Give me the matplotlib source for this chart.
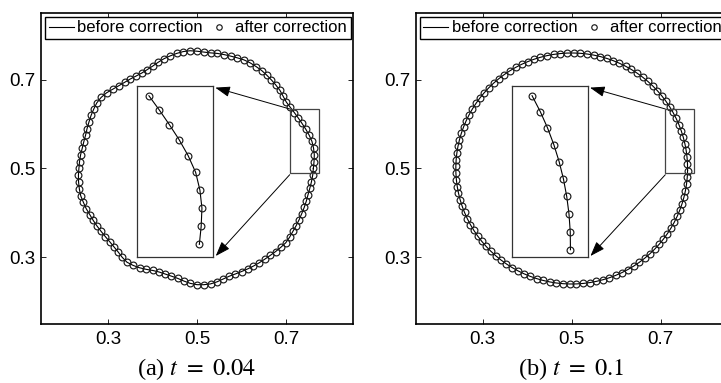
import numpy as np
import matplotlib
matplotlib.use('Agg')
import matplotlib.pyplot as plt
from matplotlib.patches import Rectangle

plt.rcParams['font.family'] = ['Liberation Sans', 'DejaVu Sans']
plt.rcParams['mathtext.fontset'] = 'stix'

# interface radius, one value per marker, at equal angle steps round (0.5, 0.5)
n_pts = 108
center = (0.5, 0.5)
start_deg = [0.0, -1.0]

r_a = [0.2610, 0.2630, 0.2650, 0.2655, 0.2650, 0.2625, 0.2595, 0.2565, 0.2540,
       0.2520, 0.2505, 0.2500, 0.2525, 0.2560, 0.2580, 0.2600, 0.2620, 0.2640,
       0.2650, 0.2660, 0.2662, 0.2650, 0.2640, 0.2635, 0.2630, 0.2620, 0.2625,
       0.2640, 0.2655, 0.2650, 0.2630, 0.2605, 0.2580, 0.2545, 0.2510, 0.2490,
       0.2480, 0.2490, 0.2510, 0.2530, 0.2560, 0.2600, 0.2650, 0.2680, 0.2690,
       0.2675, 0.2660, 0.2640, 0.2625, 0.2610, 0.2610, 0.2615, 0.2630, 0.2640,
       0.2650, 0.2665, 0.2675, 0.2680, 0.2680, 0.2660, 0.2645, 0.2620, 0.2605,
       0.2590, 0.2575, 0.2565, 0.2560, 0.2565, 0.2580, 0.2610, 0.2630, 0.2610,
       0.2580, 0.2540, 0.2500, 0.2480, 0.2480, 0.2490, 0.2510, 0.2550, 0.2590,
       0.2615, 0.2620, 0.2615, 0.2590, 0.2555, 0.2530, 0.2525, 0.2525, 0.2530,
       0.2535, 0.2540, 0.2545, 0.2555, 0.2570, 0.2585, 0.2600, 0.2590, 0.2575,
       0.2570, 0.2565, 0.2560, 0.2560, 0.2560, 0.2560, 0.2570, 0.2585, 0.2600]

r_b = [0.260, 0.260, 0.260, 0.260, 0.260, 0.260, 0.260, 0.260, 0.260,
       0.260, 0.260, 0.260, 0.260, 0.260, 0.260, 0.260, 0.260, 0.260,
       0.260, 0.260, 0.260, 0.260, 0.260, 0.260, 0.260, 0.260, 0.260,
       0.260, 0.260, 0.260, 0.260, 0.260, 0.260, 0.260, 0.260, 0.260,
       0.260, 0.260, 0.260, 0.260, 0.260, 0.260, 0.260, 0.260, 0.260,
       0.260, 0.260, 0.260, 0.260, 0.260, 0.260, 0.260, 0.260, 0.260,
       0.260, 0.260, 0.260, 0.260, 0.260, 0.260, 0.260, 0.260, 0.260,
       0.260, 0.260, 0.260, 0.260, 0.260, 0.260, 0.260, 0.260, 0.260,
       0.260, 0.260, 0.260, 0.260, 0.260, 0.260, 0.260, 0.260, 0.260,
       0.260, 0.260, 0.260, 0.260, 0.260, 0.260, 0.260, 0.260, 0.260,
       0.260, 0.260, 0.260, 0.260, 0.260, 0.260, 0.260, 0.260, 0.260,
       0.260, 0.260, 0.260, 0.260, 0.260, 0.260, 0.260, 0.260, 0.260]

ticks = [0.3, 0.5, 0.7]
tick_labels = ['0.3', '0.5', '0.7']
lims = (0.15, 0.85)
legend_labels = ['before correction', 'after correction']
captions = ['(a) $t\\ =\\ 0.04$', '(b) $t\\ =\\ 0.1$']

# window that gets magnified (x0, y0, w, h) and where the copy is drawn
zoom_boxes = [(0.708, 0.489, 0.065, 0.145), (0.710, 0.489, 0.065, 0.145)]
inset_box = (0.365, 0.300, 0.172, 0.385)


def polar_points(r, start):
    th = np.deg2rad(start + np.arange(n_pts) * 360.0 / n_pts)
    r = np.asarray(r)
    x = center[0] + r * np.cos(th)
    y = center[1] + r * np.sin(th)
    return x, y


def draw_curve(ax, x, y, closed=True, labels=True):
    lx, ly = (np.append(x, x[0]), np.append(y, y[0])) if closed else (x, y)
    ax.plot(lx, ly, '-', color='k', lw=0.8,
            label=legend_labels[0] if labels else None)
    ax.plot(x, y, 'o', ls='none', mfc='none', mec='#1a1a1a',
            ms=4.9, mew=0.85, label=legend_labels[1] if labels else None)


fig = plt.figure(figsize=(7.21, 3.83), dpi=100)
ax_lefts = [41 / 721, 415.7 / 721]
cap_x = [196 / 721, 571 / 721]

for i, r in enumerate([r_a, r_b]):
    ax = fig.add_axes([ax_lefts[i], 59 / 383, 312 / 721, 311 / 383])
    x, y = polar_points(r, start_deg[i])
    draw_curve(ax, x, y)

    ax.set_xlim(*lims)
    ax.set_ylim(*lims)
    ax.set_xticks(ticks)
    ax.set_xticklabels(tick_labels)
    ax.set_yticks(ticks)
    ax.set_yticklabels(tick_labels)
    ax.tick_params(direction='in', length=3.5, width=0.6, top=True, right=True,
                   labelsize=13.5)
    ax.tick_params(axis='x', pad=5)
    ax.tick_params(axis='y', pad=4)
    for s in ax.spines.values():
        s.set_linewidth(1.2)

    leg = ax.legend(loc='upper left', bbox_to_anchor=(0.013, 0.988),
                    borderaxespad=0, ncol=2, fontsize=12, frameon=True,
                    fancybox=False, handlelength=1.5, handletextpad=0.2,
                    columnspacing=0.25, borderpad=0.22, markerscale=0.8)
    leg.get_frame().set_edgecolor('k')
    leg.get_frame().set_linewidth(1.0)
    leg.get_frame().set_alpha(1)

    # small window on the curve
    zx, zy, zw, zh = zoom_boxes[i]
    ax.add_patch(Rectangle((zx, zy), zw, zh, fill=False, ec='#444444',
                           lw=0.9, zorder=5))

    # magnified copy: only the markers that fall inside the window
    inside = (x >= zx) & (x <= zx + zw) & (y >= zy) & (y <= zy + zh)
    ix, iy, iw, ih = inset_box
    ins = ax.inset_axes([ix, iy, iw, ih], transform=ax.transData)
    draw_curve(ins, x[inside], y[inside], closed=False, labels=False)
    ins.set_xlim(zx, zx + zw)
    ins.set_ylim(zy, zy + zh)
    ins.set_xticks([])
    ins.set_yticks([])
    for s in ins.spines.values():
        s.set_linewidth(0.9)
        s.set_edgecolor('#333333')

    arrow = dict(arrowstyle='-|>,head_length=0.9,head_width=0.32',
                 mutation_scale=10, lw=0.7, color='k',
                 shrinkA=0, shrinkB=0)
    ax.annotate('', xy=(ix + iw + 0.004, iy + ih - 0.003),
                xytext=(zx, zy + zh), arrowprops=arrow)
    ax.annotate('', xy=(ix + iw + 0.005, iy + 0.003),
                xytext=(zx, zy - 0.003), arrowprops=arrow)

    fig.text(cap_x[i], 7.5 / 383, captions[i], ha='center', va='baseline',
             fontsize=17.5, family='Liberation Serif')

fig.savefig('out.png', dpi=100)
